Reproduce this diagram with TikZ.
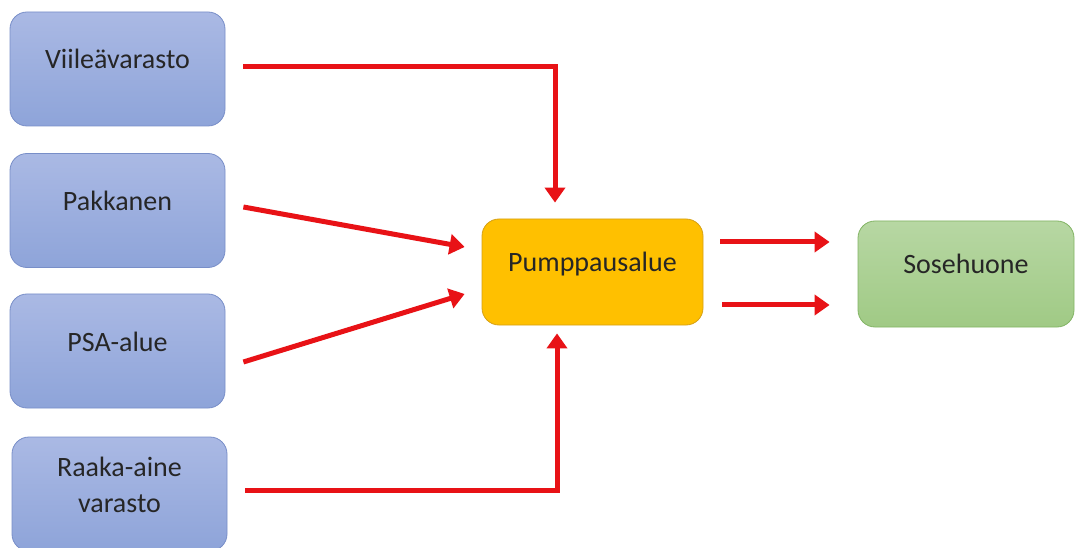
\documentclass[tikz,border=0pt]{standalone}
\usepackage{fontspec}
\setmainfont{Carlito}
\usetikzlibrary{arrows.meta}
\definecolor{bluetop}{RGB}{170,185,228}
\definecolor{bluebot}{RGB}{142,164,217}
\definecolor{blueedge}{RGB}{120,142,200}
\definecolor{orangefill}{RGB}{255,192,0}
\definecolor{orangeedge}{RGB}{214,160,20}
\definecolor{greentop}{RGB}{183,215,163}
\definecolor{greenbot}{RGB}{160,202,133}
\definecolor{greenedge}{RGB}{130,180,100}
\definecolor{arrowred}{RGB}{232,18,22}
\tikzset{
  box/.style={rectangle, rounded corners=17pt, align=center, font=\fontsize{28}{36}\selectfont, text=black!85, line width=0.8pt, text height=10pt, text depth=10pt},
  bluebox/.style={box, draw=blueedge, top color=bluetop, bottom color=bluebot, minimum width=215pt, minimum height=114pt},
  orangebox/.style={box, draw=orangeedge, fill=orangefill, minimum width=221pt, minimum height=106pt},
  greenbox/.style={box, draw=greenedge, top color=greentop, bottom color=greenbot, minimum width=216pt, minimum height=106pt},
  arr/.style={draw=arrowred, line width=5pt, -{Triangle[length=15pt,width=20pt]}}
}
\begin{document}
\begin{tikzpicture}[x=1pt,y=1pt]
\useasboundingbox (0,0) rectangle (1077,-548);
\clip (0,0) rectangle (1077,-548);
\fill[white] (0,0) rectangle (1077,-548);
\node[bluebox] (v) at (117.5,-69) {Viileävarasto};
\node[bluebox] (pak) at (117.5,-210.5) {Pakkanen};
\node[bluebox] (psa) at (117.5,-351) {PSA-alue};
\node[bluebox, text height=36pt, text depth=0pt] (raa) at (119.5,-494) {Raaka-aine\\varasto};
\node[orangebox] (pump) at (592.5,-272) {Pumppausalue};
\node[greenbox] (sose) at (966,-274) {Sosehuone};

\coordinate (c1) at (555,-67);
\coordinate (c4) at (557,-490);
\draw[arr] ([xshift=18pt,yshift=2pt]v.east) -- (c1) -- ([xshift=-37.5pt,yshift=16pt]pump.north);
\draw[arr] ([xshift=18pt,yshift=3.5pt]pak.east) -- ([xshift=-17pt,yshift=25pt]pump.west);
\draw[arr] ([xshift=18pt,yshift=-11pt]psa.east) -- ([xshift=-17pt,yshift=-22pt]pump.west);
\draw[arr] ([xshift=18pt,yshift=4pt]raa.east) -- (c4) -- ([xshift=-35.5pt,yshift=-8pt]pump.south);
\draw[arr] ([xshift=17pt,yshift=30pt]pump.east) -- ([xshift=-28pt,yshift=32pt]sose.west);
\draw[arr] ([xshift=19pt,yshift=-33pt]pump.east) -- ([xshift=-28pt,yshift=-31pt]sose.west);
\end{tikzpicture}
\end{document}
